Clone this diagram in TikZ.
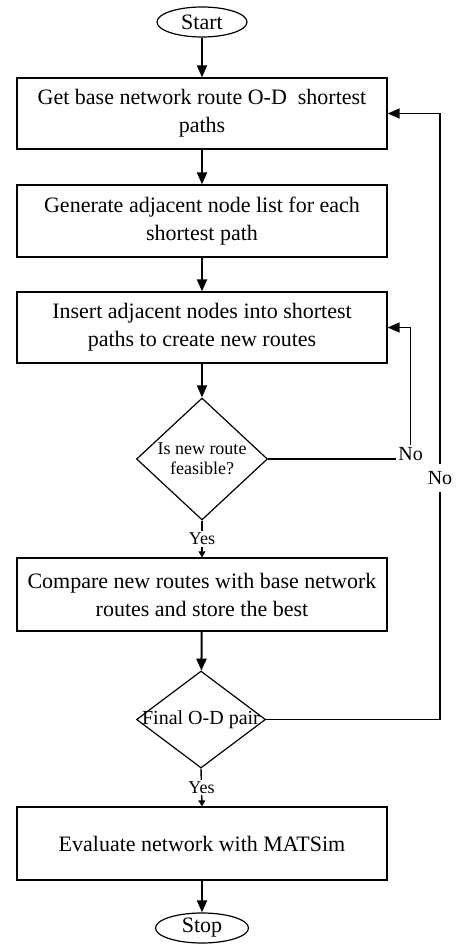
\documentclass[tikz,border=0pt]{standalone}
\usepackage{fontspec}
\setmainfont{Liberation Serif}
\usetikzlibrary{positioning, shapes.geometric, arrows.meta}

\begin{document}
\begin{tikzpicture}[x=0.5pt, y=-0.5pt, font=\fontsize{11}{14}\selectfont,
    process/.style={draw, line width=0.6pt, minimum width=185pt, align=center, inner sep=2pt},
    decision/.style={draw, diamond, line width=0.6pt, inner sep=0pt, align=center},
    terminal/.style={draw, ellipse, line width=0.6pt, inner sep=0pt, minimum width=45pt, minimum height=15pt},
    flow/.style={line width=1pt, -{Triangle[length=6pt, width=5pt]}},
    loopline/.style={line width=0.7pt},
    yesflow/.style={line width=0.7pt, -{Triangle[length=3pt, width=3.4pt]}},
    answer/.style={font=\fontsize{10}{12}\selectfont},
    yeslabel/.style={fill=white, inner sep=1pt, font=\fontsize{9}{11}\selectfont}]

  \useasboundingbox (0,0) rectangle (463,945);

  % --- main column ---
  \node[terminal] (start) at (202,22) {Start};
  \node[process, minimum height=35.5pt] (base) at (202,113.5) {Get base network route O-D\ \ shortest\\paths};
  \node[process, minimum height=36pt] (adj) at (202,221) {Generate adjacent node list for each\\shortest path};
  \node[process, minimum height=35.5pt] (ins) at (202,327.5) {Insert adjacent nodes into shortest\\paths to create new routes};
  \node[decision, aspect=1.1, minimum width=65.5pt, minimum height=61pt, font=\fontsize{9}{10}\selectfont] (feas) at (202,459) {Is new route\\feasible?};
  \node[process, minimum height=36.5pt] (cmp) at (202,594.5) {Compare new routes with base network\\routes and store the best};
  \node[decision, minimum width=64.5pt, minimum height=48.5pt, font=\fontsize{10}{12}\selectfont] (final) at (201,719.5) {\makebox[0pt]{Final O-D pair}};
  \node[process, minimum height=36.5pt] (eval) at (202,843.5) {Evaluate network with MATSim};
  \node[terminal, minimum width=46.5pt] (stop) at (202,928) {Stop};

  % --- answers ---
  \node[answer, anchor=base west, inner sep=1pt] (no1) at (396,460) {No};
  \node[answer, fill=white] (no2) at (440,478) {No};

  % --- connectors ---
  \draw[flow] (start) -- (base);
  \draw[flow] (base) -- (adj);
  \draw[flow] (adj) -- (ins);
  \draw[flow] (ins) -- (feas);
  \draw[yesflow] (feas.south) -- (cmp.north) node[yeslabel, midway] (yes1) {Yes};
  \draw[flow] (cmp) -- (final);
  \draw[yesflow] (final.south) -- (eval.north) node[yeslabel, midway] (yes2) {Yes};
  \draw[flow] (eval) -- (stop);

  % --- loops back ---
  \draw[loopline] (feas.east) -- (feas.east -| no1.west);
  \draw[loopline, -{Triangle[length=6pt, width=5pt]}] (no1.north) |- (ins.east);
  \draw[loopline] (final.east) -| (no2.south);
  \draw[loopline, -{Triangle[length=6pt, width=5pt]}] (no2.north) |- (base.east);
\end{tikzpicture}
\end{document}
